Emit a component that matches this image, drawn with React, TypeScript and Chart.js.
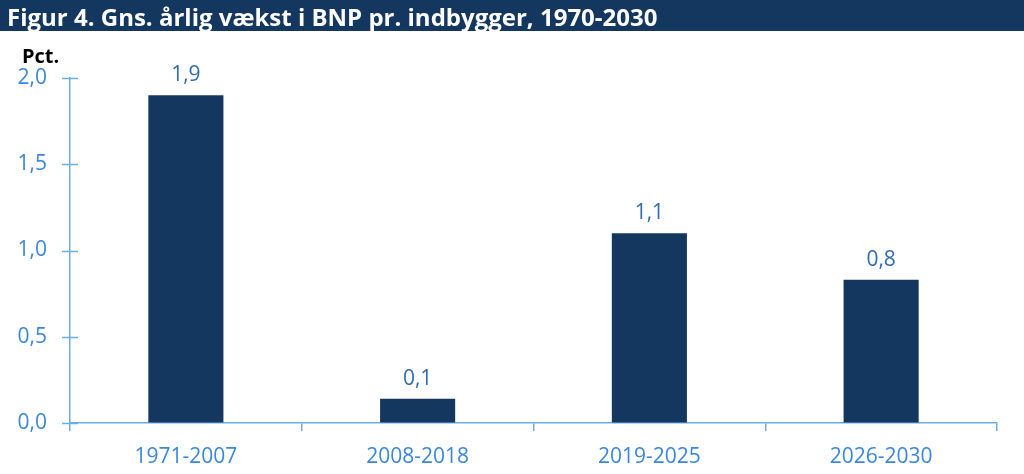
import React, { useEffect, useRef } from "react";
import { Chart, registerables } from "chart.js";

Chart.register(...registerables);

const TITLE = "Figur 4. Gns. årlig vækst i BNP pr. indbygger, 1970-2030";
const UNIT = "Pct.";
const categories = ["1971-2007", "2008-2018", "2019-2025", "2026-2030"];
const values = [1.9, 0.14, 1.1, 0.83];
const yTicks = [0, 0.5, 1.0, 1.5, 2.0];

const NAVY = "#14375f";
const AXIS = "#6aaee8";
const TICK_TEXT = "#3b87dd";
const LABEL_TEXT = "#2f6cb5";
const FONT = "'Open Sans', 'Noto Sans', sans-serif";

const fmt = (v: number) => v.toFixed(1).replace(".", ",");

const decorPlugin = {
  id: "decor",
  beforeDraw(chart: any) {
    const ctx = chart.ctx;
    ctx.save();
    ctx.fillStyle = NAVY;
    ctx.fillRect(0, 0, chart.width, 31);
    ctx.fillStyle = "#ffffff";
    ctx.font = `bold 24px ${FONT}`;
    ctx.textBaseline = "alphabetic";
    ctx.textAlign = "left";
    ctx.fillText(TITLE, 7, 26);
    ctx.fillStyle = "#000000";
    ctx.font = `bold 20px ${FONT}`;
    ctx.fillText(UNIT, 22, 63);
    ctx.restore();
  },
  afterDraw(chart: any) {
    const ctx = chart.ctx;
    const y = chart.scales.y;
    const left = chart.chartArea.left;
    ctx.save();
    ctx.strokeStyle = AXIS;
    ctx.lineWidth = 1.5;
    y.ticks.forEach((t: any) => {
      const py = Math.round(y.getPixelForValue(t.value)) + 0.5;
      ctx.beginPath();
      ctx.moveTo(left - 8, py);
      ctx.lineTo(left + 8, py);
      ctx.stroke();
    });
    // data labels
    const meta = chart.getDatasetMeta(0);
    ctx.fillStyle = LABEL_TEXT;
    ctx.font = `21px ${FONT}`;
    ctx.textAlign = "center";
    ctx.textBaseline = "alphabetic";
    meta.data.forEach((bar: any, i: number) => {
      ctx.fillText(fmt(values[i]), bar.x, bar.y - 14);
    });
    ctx.restore();
  },
};

export default function App() {
  const ref = useRef<HTMLCanvasElement>(null);
  useEffect(() => {
    document.body.style.margin = "0";
    const chart = new Chart(ref.current!, {
      type: "bar",
      data: {
        labels: categories,
        datasets: [
          {
            data: values,
            backgroundColor: NAVY,
            borderWidth: 0,
            categoryPercentage: 1,
            barPercentage: 0.324,
          },
        ],
      },
      options: {
        animation: false,
        responsive: false,
        devicePixelRatio: 1,
        layout: { padding: { top: 78, right: 27, left: 0, bottom: 0 } },
        plugins: {
          legend: { display: false },
          tooltip: { enabled: false },
          title: { display: false },
        },
        scales: {
          x: {
            afterFit: (s: any) => {
              s.height = 51;
            },
            grid: {
              offset: true,
              drawOnChartArea: false,
              drawTicks: true,
              tickLength: 8,
              color: AXIS,
              lineWidth: 1.5,
            },
            border: { display: true, color: AXIS, width: 1.5 },
            ticks: {
              color: TICK_TEXT,
              font: { family: FONT, size: 21 },
              padding: 13,
              maxRotation: 0,
            },
          },
          y: {
            min: 0,
            max: 2,
            afterFit: (s: any) => {
              s.width = 70;
            },
            afterBuildTicks: (s: any) => {
              s.ticks = yTicks.map((v) => ({ value: v }));
            },
            grid: { drawOnChartArea: false, drawTicks: false },
            border: { display: true, color: AXIS, width: 1.5 },
            ticks: {
              color: TICK_TEXT,
              font: { family: FONT, size: 21 },
              padding: 23,
              callback: (v: any) => fmt(Number(v)),
            },
          },
        },
      },
      plugins: [decorPlugin],
    });
    return () => chart.destroy();
  }, []);
  return (
    <div style={{ position: "relative", width: 1024, height: 474 }}>
      <canvas ref={ref} width={1024} height={474} style={{ display: "block" }} />
    </div>
  );
}
